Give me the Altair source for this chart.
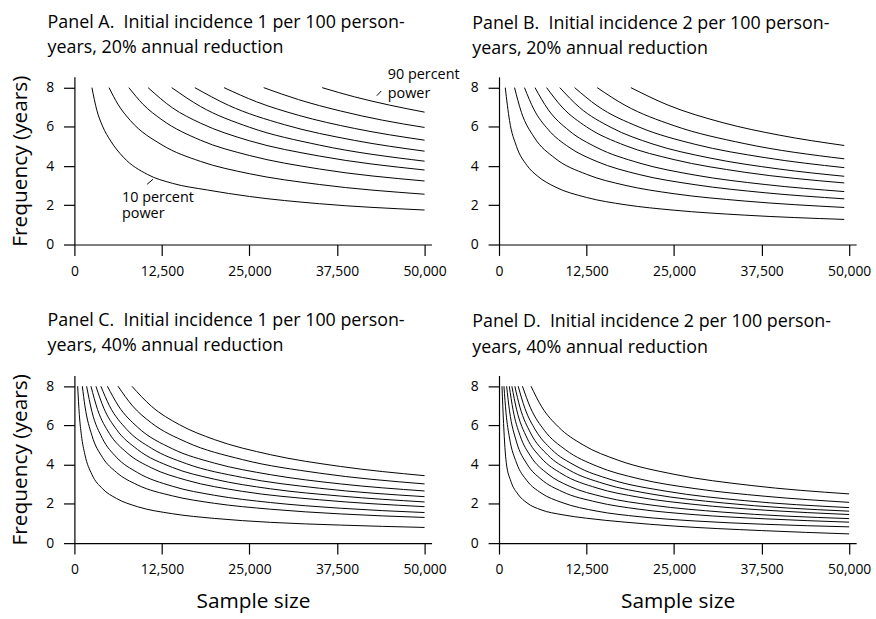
import altair as alt
import pandas as pd

FONT = "Open Sans"

POWER = [10, 20, 30, 40, 50, 60, 70, 80, 90]
X_TICKS = [0, 12500, 25000, 37500, 50000]
Y_TICKS = [0, 2, 4, 6, 8]

TITLE_A = ["Panel A.\u00a0 Initial incidence 1 per 100 person-", "years, 20% annual reduction"]
TITLE_B = ["Panel B.\u00a0 Initial incidence 2 per 100 person-", "years, 20% annual reduction"]
TITLE_C = ["Panel C.\u00a0 Initial incidence 1 per 100 person-", "years, 40% annual reduction"]
TITLE_D = ["Panel D.\u00a0 Initial incidence 2 per 100 person-", "years, 40% annual reduction"]

# Panel A: sample size (x) and frequency in years (y), one list per power curve
A_X = [
    [2500, 3200, 4000, 5200, 7000, 10400, 14000, 19000, 25000, 35000, 50000],
    [4950, 6200, 8000, 12500, 18000, 25000, 35000, 50000],
    [7780, 9800, 12500, 18000, 25000, 35000, 50000],
    [10520, 14000, 18000, 25000, 35000, 50000],
    [13900, 18000, 25000, 35000, 50000],
    [17200, 22000, 30000, 40000, 50000],
    [21370, 26000, 32000, 40000, 50000],
    [27030, 32000, 38000, 44000, 50000],
    [35380, 40000, 45000, 50000],
]
A_Y = [
    [8.0, 6.85, 6.05, 5.27, 4.45, 3.58, 3.12, 2.78, 2.45, 2.08, 1.76],
    [8.0, 7.16, 6.32, 5.08, 4.24, 3.61, 3.06, 2.565],
    [8.0, 7.15, 6.36, 5.32, 4.54, 3.85, 3.24],
    [8.0, 6.97, 6.19, 5.29, 4.51, 3.80],
    [8.0, 7.04, 5.98, 5.07, 4.25],
    [8.0, 7.10, 6.11, 5.31, 4.76],
    [8.0, 7.28, 6.59, 5.92, 5.32],
    [8.0, 7.39, 6.81, 6.34, 5.97],
    [8.0, 7.53, 7.11, 6.75],
]

B_X = [
    [892, 1500, 2500, 4000, 5500, 8000, 12500, 18000, 25000, 35000, 49300],
    [2218, 3200, 5000, 8000, 12500, 18000, 25000, 35000, 49300],
    [3634, 5000, 7000, 10000, 14000, 20000, 28000, 38000, 49300],
    [5140, 7000, 10000, 14000, 20000, 28000, 38000, 49300],
    [6797, 9000, 12500, 18000, 25000, 35000, 49300],
    [8680, 11500, 16000, 22000, 30000, 40000, 49300],
    [10804, 14000, 20000, 28000, 38000, 49300],
    [14018, 18000, 25000, 35000, 49300],
    [18832, 24000, 32000, 40000, 49300],
]
B_Y = [
    [8.0, 6.32, 5.00, 4.03, 3.49, 2.94, 2.40, 2.03, 1.75, 1.50, 1.28],
    [8.0, 6.74, 5.48, 4.40, 3.58, 3.02, 2.59, 2.22, 1.89],
    [8.0, 6.88, 5.87, 4.96, 4.23, 3.57, 3.05, 2.64, 2.33],
    [8.0, 6.89, 5.81, 4.94, 4.16, 3.54, 3.06, 2.70],
    [8.0, 7.01, 6.00, 5.05, 4.33, 3.69, 3.14],
    [8.0, 6.99, 5.97, 5.12, 4.42, 3.85, 3.48],
    [8.0, 7.08, 5.99, 5.11, 4.43, 3.92],
    [8.0, 7.10, 6.06, 5.15, 4.37],
    [8.0, 7.13, 6.21, 5.58, 5.05],
]

C_X = [
    [468, 700, 1000, 1500, 2500, 4000, 6000, 9000, 14000, 20000, 28000, 38000, 50000],
    [1133, 1500, 2500, 4000, 6000, 9000, 14000, 20000, 28000, 38000, 50000],
    [1741, 2500, 4000, 6000, 9000, 14000, 20000, 28000, 38000, 50000],
    [2364, 3300, 5000, 7500, 11000, 16000, 24000, 35000, 50000],
    [3073, 4200, 6000, 9000, 14000, 20000, 28000, 38000, 50000],
    [3781, 5000, 7500, 11000, 16000, 24000, 35000, 50000],
    [4716, 6300, 9000, 14000, 20000, 28000, 38000, 50000],
    [6231, 8300, 11000, 16000, 24000, 35000, 50000],
    [8214, 11000, 15000, 20000, 28000, 38000, 50000],
]
C_Y = [
    [8.0, 6.56, 5.50, 4.51, 3.50, 2.78, 2.28, 1.86, 1.50, 1.26, 1.06, 0.92, 0.80],
    [8.0, 7.00, 5.49, 4.38, 3.61, 2.97, 2.41, 2.03, 1.73, 1.49, 1.31],
    [8.0, 6.71, 5.34, 4.38, 3.60, 2.90, 2.44, 2.07, 1.78, 1.56],
    [8.0, 6.82, 5.59, 4.61, 3.84, 3.21, 2.64, 2.21, 1.86],
    [8.0, 6.88, 5.80, 4.78, 3.86, 3.26, 2.77, 2.40, 2.10],
    [8.0, 7.01, 5.79, 4.84, 4.05, 3.35, 2.80, 2.37],
    [8.0, 6.99, 5.92, 4.81, 4.08, 3.49, 3.02, 2.66],
    [8.0, 7.00, 6.13, 5.15, 4.26, 3.57, 3.02],
    [8.0, 6.98, 6.04, 5.28, 4.51, 3.91, 3.44],
]

D_X = [
    [424, 650, 1036, 1700, 2700, 4000, 6000, 9000, 12500, 18000, 25000, 37500, 50000],
    [706, 1000, 1500, 2500, 4000, 6000, 9000, 14000, 20000, 28000, 38000, 50000],
    [1087, 1500, 2500, 4000, 6000, 9000, 14000, 20000, 28000, 38000, 50000],
    [1469, 2000, 3000, 4500, 7000, 10000, 15000, 22000, 32000, 50000],
    [1836, 2500, 4000, 6000, 9000, 14000, 20000, 28000, 38000, 50000],
    [2260, 3000, 4500, 7000, 10000, 15000, 22000, 32000, 50000],
    [2740, 3700, 5200, 7500, 11000, 16000, 24000, 35000, 50000],
    [3347, 4500, 6500, 9500, 14000, 20000, 28000, 38000, 50000],
    [4570, 6100, 8500, 12000, 17000, 25000, 36000, 50000],
]
D_Y = [
    [8.0, 6.1, 4.1, 3.15, 2.5, 2.05, 1.7, 1.45, 1.27, 1.07, 0.87, 0.64, 0.47],
    [8.0, 6.65, 5.36, 4.09, 3.18, 2.56, 2.07, 1.63, 1.35, 1.13, 0.96, 0.83],
    [8.0, 6.75, 5.16, 4.03, 3.26, 2.63, 2.09, 1.73, 1.45, 1.24, 1.07],
    [8.0, 6.80, 5.49, 4.44, 3.52, 2.91, 2.35, 1.93, 1.58, 1.25],
    [8.0, 6.83, 5.36, 4.35, 3.53, 2.81, 2.34, 1.97, 1.68, 1.46],
    [8.0, 6.92, 5.62, 4.48, 3.73, 3.03, 2.49, 2.05, 1.63],
    [8.0, 6.87, 5.77, 4.78, 3.93, 3.24, 2.64, 2.17, 1.81],
    [8.0, 6.90, 5.74, 4.76, 3.92, 3.28, 2.78, 2.39, 2.08],
    [8.0, 6.95, 5.92, 5.01, 4.23, 3.51, 2.94, 2.51],
]

# Annotations in panel A (data coordinates)
NOTE_TEXT = ["90 percent", "power", "10 percent", "power"]
NOTE_N = [44750, 44750, 6800, 6800]
NOTE_FREQ = [8.46, 7.47, 2.15, 1.34]
LEADER_N = [43190, 10380]
LEADER_N2 = [43820, 11230]
LEADER_F = [7.59, 3.07]
LEADER_F2 = [7.83, 3.33]

X_SCALE = alt.Scale(domain=[0, 51000], nice=False, zero=False)
Y_SCALE = alt.Scale(domain=[0, 8.55], nice=False, zero=False)


def x_axis(title):
    return alt.Axis(values=X_TICKS, labelExpr="format(datum.value, ',')", title=title)


def y_axis(title):
    return alt.Axis(values=Y_TICKS, labelExpr="format(datum.value, 'd')", title=title)


def curves_df(xs_list, ys_list):
    rows = []
    for p, xs, ys in zip(POWER, xs_list, ys_list):
        for n, f in zip(xs, ys):
            rows.append({"power": p, "n": n, "freq": f})
    return pd.DataFrame(rows)


def lines(xs_list, ys_list, y_title, x_title):
    df = curves_df(xs_list, ys_list)
    return alt.Chart(df).mark_line(
        color="black", strokeWidth=1.0, interpolate="monotone"
    ).encode(
        x=alt.X("n:Q", scale=X_SCALE, axis=x_axis(x_title)),
        y=alt.Y("freq:Q", scale=Y_SCALE, axis=y_axis(y_title)),
        detail="power:N",
    )


notes_df = pd.DataFrame({"label": NOTE_TEXT, "n": NOTE_N, "freq": NOTE_FREQ})
leader_df = pd.DataFrame({"n": LEADER_N, "n2": LEADER_N2, "freq": LEADER_F, "freq2": LEADER_F2})

notes = alt.Chart(notes_df).mark_text(
    align="left", baseline="alphabetic", font=FONT, fontSize=14.5, color="black"
).encode(
    x=alt.X("n:Q", scale=X_SCALE, axis=x_axis(None)),
    y=alt.Y("freq:Q", scale=Y_SCALE, axis=y_axis("Frequency (years)")),
    text="label:N",
)
leaders = alt.Chart(leader_df).mark_rule(color="black", strokeWidth=1).encode(
    x=alt.X("n:Q", scale=X_SCALE, axis=x_axis(None)),
    x2="n2:Q",
    y=alt.Y("freq:Q", scale=Y_SCALE, axis=y_axis("Frequency (years)")),
    y2="freq2:Q",
)

SIZE = dict(width=360, height=169)

pA = alt.layer(
    lines(A_X, A_Y, "Frequency (years)", None), notes, leaders
).properties(title=alt.TitleParams(text=TITLE_A, offset=10), **SIZE)
pB = lines(B_X, B_Y, None, None).properties(
    title=alt.TitleParams(text=TITLE_B, offset=19), **SIZE)
pC = lines(C_X, C_Y, "Frequency (years)", "Sample size").properties(
    title=alt.TitleParams(text=TITLE_C, offset=19), **SIZE)
pD = lines(D_X, D_Y, None, "Sample size").properties(
    title=alt.TitleParams(text=TITLE_D, offset=19), **SIZE)

chart = alt.concat(
    pA, pB, pC, pD, columns=2, spacing={"row": 132, "column": 68}, bounds="flush"
).properties(
    padding={"left": 9, "top": 11, "right": 5, "bottom": 5},
).configure_view(strokeWidth=0).configure_axis(
    domainColor="black", domainWidth=1.2, tickColor="black", tickWidth=1.2,
    tickSize=11, labelFont=FONT, labelFontSize=14, labelColor="black",
    titleFont=FONT, titleFontSize=21, titleFontWeight="normal", titleColor="black",
    grid=False, labelFlush=False, labelOverlap=False,
).configure_axisX(labelPadding=9, titlePadding=14).configure_axisY(
    labelPadding=10, titlePadding=15
).configure_title(
    font=FONT, fontSize=18, fontWeight="normal", color="black", anchor="start",
    frame="group", dx=-27, lineHeight=25.5, baseline="bottom",
)

chart.save("out.html", embed_options={"renderer": "svg", "actions": False})
